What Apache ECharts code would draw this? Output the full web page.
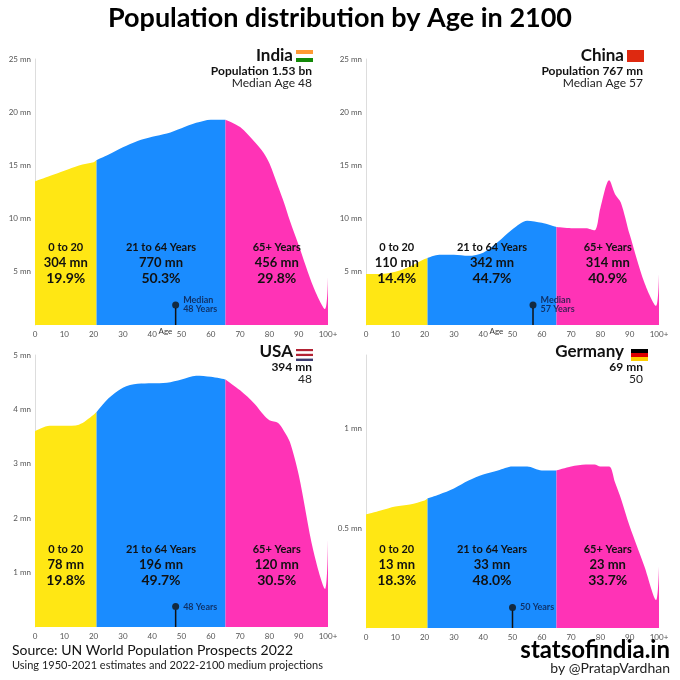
<!DOCTYPE html>
<html>
<head>
<meta charset="utf-8">
<script src="https://cdn.jsdelivr.net/npm/echarts@6/dist/echarts.min.js"></script>
<style>html,body{margin:0;padding:0;background:#fff}#chart{width:680px;height:680px}</style>
</head>
<body>
<div id="chart"></div>
<script>
// Ages (x) where the curve is sampled
var ages = [0, 5, 10, 15, 20, 21, 25, 30, 35, 40, 45, 50, 55, 60, 65, 70, 75, 78, 80, 83, 85, 87, 90, 95, 99, 100];

// Population per single year of age, millions
var indiaValues   = [13.5, 14.0, 14.5, 15.0, 15.3, 15.5, 16.0, 16.7, 17.3, 17.7, 18.0, 18.5, 19.0, 19.3, 19.3, 18.6, 17.2, 16.2, 15.2, 13.0, 11.5, 9.8, 7.5, 3.6, 1.5, 4.5];
var chinaValues   = [4.8, 4.8, 5.0, 5.5, 6.2, 6.3, 6.6, 6.6, 6.5, 6.8, 7.8, 9.0, 9.8, 9.6, 9.2, 9.1, 9.1, 8.9, 11.0, 13.6, 12.3, 11.5, 8.5, 4.0, 1.8, 4.8];
var usaValues     = [3.6, 3.7, 3.7, 3.72, 3.9, 3.95, 4.2, 4.4, 4.47, 4.48, 4.49, 4.55, 4.62, 4.6, 4.55, 4.35, 4.1, 3.9, 3.8, 3.75, 3.6, 3.4, 2.8, 1.4, 0.7, 1.6];
var germanyValues = [0.57, 0.59, 0.61, 0.62, 0.64, 0.65, 0.67, 0.70, 0.74, 0.77, 0.79, 0.81, 0.81, 0.79, 0.79, 0.81, 0.82, 0.82, 0.81, 0.81, 0.73, 0.65, 0.51, 0.31, 0.14, 0.31];

var countries = ['India', 'China', 'USA', 'Germany'];
var medianAges = [48, 57, 48, 50];
var groupNames = ['0 to 20', '21 to 64 Years', '65+ Years'];
var groupMn = [['304 mn', '770 mn', '456 mn'], ['110 mn', '342 mn', '314 mn'], ['78 mn', '196 mn', '120 mn'], ['13 mn', '33 mn', '23 mn']];
var groupPct = [['19.9%', '50.3%', '29.8%'], ['14.4%', '44.7%', '40.9%'], ['19.8%', '49.7%', '30.5%'], ['18.3%', '48.0%', '33.7%']];
var popLabels = ['Population 1.53 bn', 'Population 767 mn', '394 mn', '69 mn'];
var medianLabels = ['Median Age 48', 'Median Age 57', '48', '50'];
var yMax = [25, 25, 5, 1.37];
var yInterval = [5, 5, 1, 0.5];

var values = [indiaValues, chinaValues, usaValues, germanyValues];
var colors = ['#ffe714', '#1a8cff', '#ff33b6'];
var ranges = [[0, 21], [21, 65], [65, 100]];
var font = 'Lato, "Open Sans", sans-serif';

var grids = [
    { left: 35, right: 352, top: 59, bottom: 355 },
    { left: 366, right: 21, top: 59, bottom: 355 },
    { left: 35, right: 352, top: 355, bottom: 53 },
    { left: 366, right: 21, top: 355, bottom: 52 }
];

var xAxes = [], yAxes = [], series = [], graphic = [];

function txt(x, y, s, size, bold, align, fill) {
    graphic.push({ type: 'text', x: x, y: y, z: 100, style: { text: s, textAlign: align || 'left', fontFamily: font,
        fontWeight: bold ? 'bold' : 'normal', fontSize: size, fill: fill || '#111' } });
}

grids.forEach(function(g, i) {
    xAxes.push({
        type: 'value', gridIndex: i, min: 0, max: 100, interval: 10,
        axisLine: { show: false }, axisTick: { show: false }, splitLine: { show: false },
        axisLabel: { color: '#555', fontSize: 8, fontFamily: font, margin: 5,
            formatter: function(v) { return v === 100 ? '100+' : v; } }
    });
    yAxes.push({
        type: 'value', gridIndex: i, min: 0, max: yMax[i], interval: yInterval[i],
        axisLine: { show: true, lineStyle: { color: '#ddd' } }, axisTick: { show: false }, splitLine: { show: false },
        axisLabel: { color: '#555', fontSize: 8, fontFamily: font, margin: 4, showMaxLabel: i !== 3,
            formatter: function(v) { return (v === 0 || v > 1.2 && i === 3) ? '' : v + ' mn'; } }
    });

    // three age-group areas
    ranges.forEach(function(r, k) {
        var d = [];
        ages.forEach(function(a, j) {
            if (a >= r[0] && a <= r[1]) d.push([a, values[i][j]]);
        });
        series.push({
            type: 'line', xAxisIndex: i, yAxisIndex: i, data: d, smooth: 0.3,
            showSymbol: false, lineStyle: { width: 0 }, silent: true,
            areaStyle: { color: colors[k], opacity: 1 }, z: 2
        });
    });

    // median marker
    var top = yMax[i] * 0.075;
    series.push({
        type: 'line', xAxisIndex: i, yAxisIndex: i, showSymbol: false, silent: true, z: 5,
        data: [[medianAges[i], 0], [medianAges[i], top * 0.85]],
        lineStyle: { color: '#111', width: 1.5 }
    });
    series.push({
        type: 'scatter', xAxisIndex: i, yAxisIndex: i, symbolSize: 7, silent: true, z: 6,
        data: [[medianAges[i], top]], itemStyle: { color: '#111' },
        label: { show: true, position: 'right', distance: 4, fontFamily: font, fontWeight: 'bold', fontSize: 9, color: '#0d1a40', lineHeight: 9,
            formatter: i < 2 ? 'Median\n' + medianAges[i] + ' Years' : medianAges[i] + ' Years' }
    });

    // group labels
    var plotW = 680 - g.left - g.right;
    var labelY = i < 2 ? 242 : 544;
    ranges.forEach(function(r, k) {
        var cx = g.left + plotW * (r[0] + r[1]) / 200;
        txt(cx, labelY, groupNames[k], 11, true, 'center');
        txt(cx, labelY + 14, groupMn[i][k], 13, true, 'center');
        txt(cx, labelY + 29, groupPct[i][k], 14, true, 'center');
    });

    // country header
    var right = 680 - g.right - 16;
    var hy = g.top - 12;
    txt(right - 19, hy, countries[i], 17, true, 'right');
    txt(right, hy + 18, popLabels[i], 12, true, 'right');
    txt(right, hy + 30, medianLabels[i], 12, false, 'right', '#222');
    if (i < 2) txt(g.left + plotW * 0.445, 327, 'Age', 8, false, 'center', '#333');
});

// flags
function flag(x, y, stripes) {
    stripes.forEach(function(c, k) {
        graphic.push({ type: 'rect', z: 100, shape: { x: x, y: y + k * 12 / stripes.length, width: 17, height: 12 / stripes.length }, style: { fill: c } });
    });
}
flag(296, 50, ['#ff9933', '#ffffff', '#138808']);
flag(627, 50, ['#de2910']);
flag(296, 349, ['#b22234', '#ffffff', '#b22234', '#ffffff', '#3c3b6e']);
flag(631, 349, ['#000000', '#dd0000', '#ffce00']);

txt(340, 5, 'Population distribution by Age in 2100', 27, true, 'center', '#000');
txt(12, 643, 'Source: UN World Population Prospects 2022', 14, false, 'left');
txt(12, 660, 'Using 1950-2021 estimates and 2022-2100 medium projections', 11, false, 'left', '#222');
txt(670, 638, 'statsofindia.in', 24, true, 'right', '#000');
txt(670, 661, 'by @PratapVardhan', 14, false, 'right', '#222');

var chart = echarts.init(document.getElementById('chart'));
chart.setOption({
    animation: false,
    grid: grids,
    xAxis: xAxes,
    yAxis: yAxes,
    series: series,
    graphic: graphic
});
</script>
</body>
</html>
